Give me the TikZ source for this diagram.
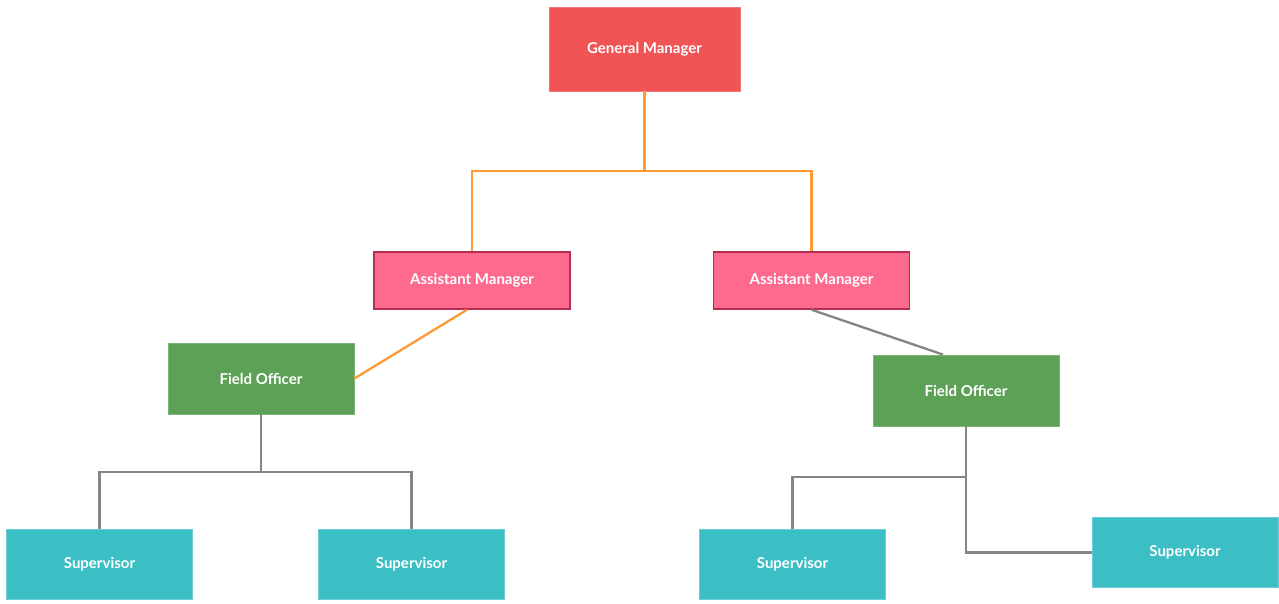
\documentclass[tikz,border=0pt]{standalone}
\usepackage{fontspec}
\setmainfont{Lato}
\definecolor{gmred}{HTML}{F05454}
\definecolor{gmborder}{HTML}{F27A7A}
\definecolor{ampink}{HTML}{FE6A8E}
\definecolor{amborder}{HTML}{B52D53}
\definecolor{fogreen}{HTML}{5CA156}
\definecolor{foborder}{HTML}{7DB578}
\definecolor{supteal}{HTML}{3BBFC4}
\definecolor{supborder}{HTML}{6CCFD3}
\definecolor{lineorange}{HTML}{FF9933}
\definecolor{linegray}{HTML}{858585}
\begin{document}
\begin{tikzpicture}[x=1pt,y=-1pt,
  box/.style={rectangle, text=white, font=\fontsize{15}{17}\selectfont\bfseries, inner sep=0pt, line width=0.8pt},
  gmbox/.style={box, fill=gmred, draw=gmborder, minimum width=191pt, minimum height=84pt},
  ambox/.style={box, fill=ampink, draw=amborder, line width=1.5pt, minimum width=196pt, minimum height=57pt},
  fobox/.style={box, fill=fogreen, draw=foborder, minimum width=186pt, minimum height=71pt},
  supbox/.style={box, fill=supteal, draw=supborder, minimum width=186pt, minimum height=70pt},
  orangeline/.style={draw=lineorange, line width=2.3pt},
  grayline/.style={draw=linegray, line width=2.3pt}]
\useasboundingbox (0,0) rectangle (1279,604);
\node[gmbox] (gm) at (644.5,49) {General Manager};
\node[ambox] (am1) at (472,280.5) {Assistant Manager};
\node[ambox] (am2) at (811.5,280.5) {Assistant Manager};
\node[fobox] (fo1) at (261,378.5) {Field Officer};
\node[fobox] (fo2) at (966,390.5) {Field Officer};
\node[supbox] (s1) at (99.5,564) {Supervisor};
\node[supbox] (s2) at (411.5,564) {Supervisor};
\node[supbox] (s3) at (792.5,564) {Supervisor};
\node[supbox] (s4) at (1185,552.5) {Supervisor};
\coordinate (gmbus) at (644.5,171);
\coordinate (fo1bus) at (261,472);
\coordinate (fo2bus) at (966,477);
\draw[orangeline] (gm.south) -- (gmbus) -| (am1.north);
\draw[orangeline] (gmbus) -| (am2.north);
\draw[orangeline] ([xshift=-5pt]am1.south) -- (fo1.east);
\draw[grayline] (am2.south) -- ([xshift=-23pt]fo2.north);
\draw[grayline] (fo1.south) -- (fo1bus) -| (s1.north);
\draw[grayline] (fo1bus) -| (s2.north);
\draw[grayline] (fo2.south) -- (fo2bus) -| (s3.north);
\draw[grayline] (fo2bus) |- (s4.west);
\end{tikzpicture}
\end{document}
